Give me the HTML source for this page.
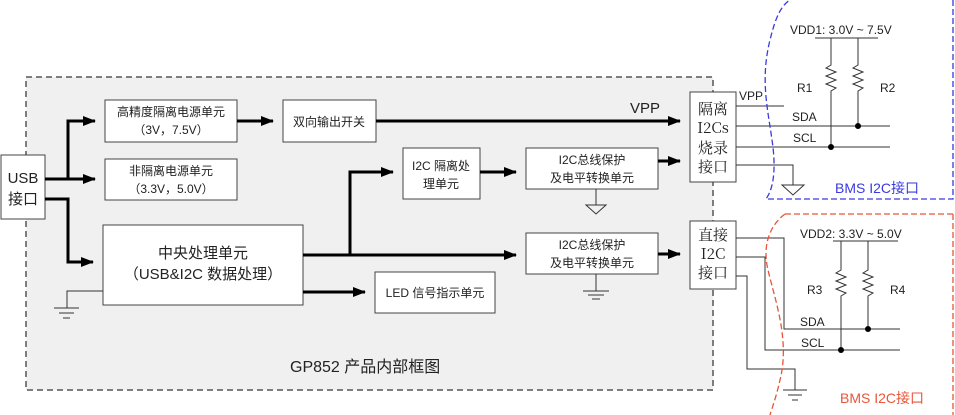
<!DOCTYPE html>
<html><head><meta charset="utf-8"><style>
body{margin:0;background:#fff}
svg{display:block}
text{font-family:"Liberation Sans","Noto Sans CJK SC",sans-serif;fill:#222}
.c{font-family:"Noto Serif CJK SC","Liberation Serif",serif}
</style></head><body>
<svg width="955" height="415" viewBox="0 0 955 415" xmlns="http://www.w3.org/2000/svg">
<defs>
<marker id="a" markerWidth="13" markerHeight="10" refX="12" refY="5" orient="auto" markerUnits="userSpaceOnUse"><path d="M0,0 L13,5 L0,10 z" fill="#000"/></marker>
</defs>
<rect x="26" y="77" width="687" height="313" fill="#f0f0f0" stroke="#555" stroke-width="1.5" stroke-dasharray="6,4"/>
<g fill="#fff" stroke="#444" stroke-width="1">
<rect x="1" y="155" width="44" height="64"/>
<rect x="105" y="100" width="132" height="42"/>
<rect x="283" y="100" width="93" height="42"/>
<rect x="105" y="159" width="132" height="41"/>
<rect x="103" y="225" width="200" height="80"/>
<rect x="403" y="148" width="77" height="51"/>
<rect x="526" y="148" width="132" height="41"/>
<rect x="526" y="233" width="132" height="41"/>
<rect x="375" y="272" width="120" height="41"/>
<rect x="690" y="92" width="46" height="90"/>
<rect x="690" y="221" width="46" height="68"/>
</g>
<g stroke="#000" stroke-width="3" fill="none">
<polyline points="45,179 68,179 68,121 95,121" marker-end="url(#a)"/>
<line x1="68" y1="179" x2="95" y2="179" marker-end="url(#a)"/>
<polyline points="45,199 68,199 68,262 93,262" marker-end="url(#a)"/>
<line x1="237" y1="121" x2="273" y2="121" marker-end="url(#a)"/>
<line x1="376" y1="121" x2="680" y2="121" marker-end="url(#a)"/>
<polyline points="303,255 516,255" marker-end="url(#a)"/>
<polyline points="350,255 350,172 393,172" marker-end="url(#a)"/>
<line x1="480" y1="172" x2="516" y2="172" marker-end="url(#a)"/>
<line x1="658" y1="161" x2="680" y2="161" marker-end="url(#a)"/>
<line x1="658" y1="254" x2="680" y2="254" marker-end="url(#a)"/>
<line x1="303" y1="292" x2="365" y2="292" marker-end="url(#a)"/>
</g>
<g stroke="#333" stroke-width="1" fill="none">
<line x1="596" y1="189" x2="596" y2="205"/><path d="M586,205 L606,205 L596,214 z"/>
<line x1="596" y1="274" x2="596" y2="291"/><line x1="583" y1="291" x2="609" y2="291"/><line x1="588" y1="295" x2="604" y2="295"/><line x1="592" y1="299" x2="600" y2="299"/>
<polyline points="103,291 67,291 67,308"/><line x1="54" y1="308" x2="79" y2="308"/><line x1="59" y1="313" x2="74" y2="313"/><line x1="63" y1="318" x2="70" y2="318"/>
<line x1="736" y1="106" x2="784" y2="106"/>
<line x1="736" y1="126" x2="890" y2="126"/>
<line x1="736" y1="147" x2="890" y2="147"/>
<polyline points="736,165 793,165 793,185"/><path d="M782,185 L804,185 L793,195 z"/>
<line x1="815" y1="38" x2="878" y2="38"/>
<polyline points="831,38 831,65 826,68 836,72 826,76 836,80 826,84 836,88 831,91 831,147"/>
<polyline points="858,38 858,65 853,68 863,72 853,76 863,80 853,84 863,88 858,91 858,126"/>
<line x1="833" y1="241" x2="898" y2="241"/>
<polyline points="841,241 841,270 836,273 846,277 836,281 846,285 836,289 846,293 841,296 841,350"/>
<polyline points="868,241 868,270 863,273 873,277 863,281 873,285 863,289 873,293 868,296 868,329"/>
<polyline points="736,238 784,238 784,329 900,329"/>
<polyline points="736,257 765,257 765,350 900,350"/>
<polyline points="736,276 747,276 747,369 795,369 795,390"/><line x1="783" y1="390" x2="807" y2="390"/><line x1="788" y1="395" x2="802" y2="395"/><line x1="792" y1="400" x2="798" y2="400"/>
</g>
<g fill="#000"><circle cx="831" cy="147" r="3"/><circle cx="858" cy="126" r="3"/><circle cx="841" cy="350" r="3"/><circle cx="868" cy="329" r="3"/></g>
<path d="M953,0 L953,199 L766,199 C776,185 775,160 772,140 C768,110 760,80 770,40 C776,15 782,5 790,0" fill="none" stroke="#3a3ae0" stroke-width="1.3" stroke-dasharray="6,3"/>
<path d="M953,214 L953,415 M785,214 L953,214 M785,214 C770,225 762,245 768,270 C775,300 790,340 780,380 C776,398 772,408 770,415" fill="none" stroke="#e8553a" stroke-width="1.3" stroke-dasharray="6,3"/>
<g font-size="12">
<text x="171" y="116" text-anchor="middle">高精度隔离电源单元</text>
<text x="171" y="134" text-anchor="middle">（3V，7.5V）</text>
<text x="329" y="126" text-anchor="middle">双向输出开关</text>
<text x="171" y="175" text-anchor="middle">非隔离电源单元</text>
<text x="171" y="193" text-anchor="middle">（3.3V，5.0V）</text>
<text x="441" y="170" text-anchor="middle">I2C 隔离处</text>
<text x="441" y="188" text-anchor="middle">理单元</text>
<text x="592" y="164" text-anchor="middle">I2C总线保护</text>
<text x="592" y="182" text-anchor="middle">及电平转换单元</text>
<text x="592" y="249" text-anchor="middle">I2C总线保护</text>
<text x="592" y="267" text-anchor="middle">及电平转换单元</text>
<text x="435" y="297" text-anchor="middle">LED 信号指示单元</text>
<text x="790" y="34">VDD1: 3.0V ~ 7.5V</text>
<text x="797" y="92">R1</text><text x="880" y="92">R2</text>
<text x="739" y="100">VPP</text>
<text x="792" y="121">SDA</text><text x="793" y="142">SCL</text>
<text x="800" y="238">VDD2: 3.3V ~ 5.0V</text>
<text x="807" y="294">R3</text><text x="890" y="294">R4</text>
<text x="800" y="326">SDA</text><text x="801" y="347">SCL</text>
</g>
<text x="203" y="258" text-anchor="middle" font-size="15">中央处理单元</text>
<text x="203" y="279" text-anchor="middle" font-size="15">（USB&amp;I2C 数据处理）</text>
<text x="23" y="183" text-anchor="middle" font-size="15">USB</text>
<text x="23" y="204" text-anchor="middle" font-size="15">接口</text>
<text x="630" y="113" font-size="15">VPP</text>
<text x="290" y="372" font-size="16">GP852 产品内部框图</text>
<g class="c" font-size="15" text-anchor="middle">
<text x="713" y="114" class="c">隔离</text>
<text x="713" y="133" class="c" fill="#555">I2Cs</text>
<text x="713" y="153" class="c">烧录</text>
<text x="713" y="172" class="c">接口</text>
<text x="713" y="240" class="c">直接</text>
<text x="713" y="259" class="c">I2C</text>
<text x="713" y="278" class="c">接口</text>
</g>
<text x="835" y="193" font-size="14" style="fill:#3a3ae0">BMS I2C接口</text>
<text x="840" y="403" font-size="14" style="fill:#e8553a">BMS I2C接口</text>
</svg>
</body></html>
